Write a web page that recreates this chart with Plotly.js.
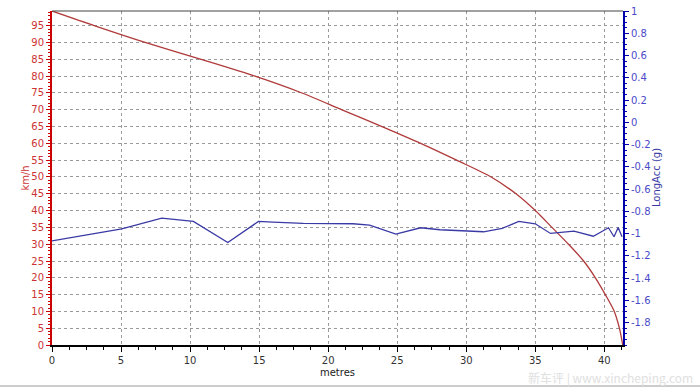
<!DOCTYPE html>
<html>
<head>
<meta charset="utf-8">
<script src="https://cdn.plot.ly/plotly-3.0.1.min.js"></script>
<style>html,body{margin:0;padding:0;background:#fff;}#chart{width:700px;height:388px;}</style>
</head>
<body>
<div id="chart"></div>
<script>
// Speed (km/h) vs distance (metres) — distances read where the curve crosses each 5 km/h level
const speedX = [0,3.1,6.8,10.8,14.7,18.1,21.0,23.9,26.7,29.3,31.8,33.6,35.0,36.2,37.4,38.5,39.35,40.07,40.72,41.09,41.33];
const speedKmh = [99.4,95,90,85,80,75,70,65,60,55,50,45,40,35,30,25,20,15,10,5,0];
// Longitudinal acceleration (g) vs distance (metres)
const accX = [0,5.05,7.95,10.24,12.73,14.95,16.0,18.2,21.8,23.0,24.9,26.7,28.1,29.3,31.25,32.6,33.8,35.0,36.1,37.8,39.2,40.3,40.7,41.0,41.28];
const accG = [-1.064,-0.956,-0.860,-0.890,-1.079,-0.890,-0.897,-0.908,-0.911,-0.923,-1.004,-0.947,-0.965,-0.974,-0.983,-0.953,-0.890,-0.911,-0.998,-0.977,-1.023,-0.947,-1.028,-0.944,-1.028];
// Tick labels
const xTicks = [0,5,10,15,20,25,30,35,40];
const leftTicks = [0,5,10,15,20,25,30,35,40,45,50,55,60,65,70,75,80,85,90,95];
const rightTicks = [1,0.8,0.6,0.4,0.2,0,-0.2,-0.4,-0.6,-0.8,-1,-1.2,-1.4,-1.6,-1.8];
const rightLabels = ["1","0.8","0.6","0.4","0.2","0","-0.2","-0.4","-0.6","-0.8","-1","-1.2","-1.4","-1.6","-1.8"];

const fam = "DejaVu Sans, Verdana, sans-serif";

const traces = [
  {x: accX, y: accG, yaxis: 'y2', type: 'scatter', mode: 'lines',
   line: {color: '#3a3aa6', width: 1.3}, hoverinfo: 'skip'},
  {x: speedX, y: speedKmh, yaxis: 'y', type: 'scatter', mode: 'lines',
   line: {color: '#b03a3a', width: 1.3, shape: 'spline', smoothing: 0.8}, hoverinfo: 'skip'}
];

const layout = {
  width: 700, height: 388,
  margin: {l: 52, r: 77, t: 11, b: 43},
  paper_bgcolor: '#fff', plot_bgcolor: '#fff',
  showlegend: false,
  font: {family: fam, size: 10},
  xaxis: {
    range: [0, 41.35], tickvals: xTicks, ticks: 'outside', ticklen: 5, tickcolor: '#000',
    showline: true, linecolor: '#000', linewidth: 2,
    showgrid: true, gridcolor: '#9a9a9a', griddash: '3px,3px', gridwidth: 1,
    zeroline: false, tickfont: {family: fam, size: 10, color: '#333'},
    minor: {dtick: 1.25, tick0: 0, ticks: 'outside', ticklen: 3, tickcolor: '#000', showgrid: false},
    title: {text: 'metres', standoff: 4, font: {family: fam, size: 10, color: '#222'}}
  },
  yaxis: {
    range: [0, 99.4], tickvals: leftTicks, ticks: 'outside', ticklen: 4, tickcolor: '#cc0000',
    showline: true, linecolor: '#cc0000', linewidth: 2,
    showgrid: true, gridcolor: '#9a9a9a', griddash: '3px,3px', gridwidth: 1,
    zeroline: false, tickfont: {family: fam, size: 10, color: '#cc3333'},
    minor: {dtick: 1, tick0: 0, ticks: 'outside', ticklen: 2, tickcolor: '#cc0000', showgrid: false},
    title: {text: ''}
  },
  yaxis2: {
    overlaying: 'y', side: 'right', range: [-2, 1],
    tickmode: 'array', tickvals: rightTicks, ticktext: rightLabels,
    ticks: 'outside', ticklen: 4, tickcolor: '#0000aa',
    showline: true, linecolor: '#0000aa', linewidth: 2,
    showgrid: false, zeroline: false,
    tickfont: {family: fam, size: 10, color: '#4a4ac8'},
    minor: {tickmode: 'linear', dtick: 0.05, tick0: 0, ticks: 'outside', ticklen: 2, tickcolor: '#0000aa', showgrid: false},
    title: {text: ''}
  },
  shapes: [
    {type: 'line', xref: 'paper', yref: 'paper', x0: 0, x1: 1, y0: 1, y1: 1, line: {color: '#444', width: 1.2}},
    {type: 'line', xref: 'paper', yref: 'paper', x0: -0.1, x1: 1.14, y0: -0.123, y1: -0.123, line: {color: '#bbb', width: 1.5}}
  ],
  annotations: [
    {xref: 'paper', yref: 'paper', x: -0.048, y: 0.5, xanchor: 'center', yanchor: 'middle', showarrow: false,
     textangle: -90, text: 'km/h', font: {family: fam, size: 10, color: '#cc3333'}},
    {xref: 'paper', yref: 'paper', x: 1.058, y: 0.5, xanchor: 'center', yanchor: 'middle', showarrow: false,
     textangle: -90, text: 'LongAcc (g)', font: {family: fam, size: 10, color: '#3a3aa6'}},
    {xref: 'paper', yref: 'paper', x: 1.126, y: -0.1, xanchor: 'right', yanchor: 'middle', showarrow: false,
     text: '新车评 | www.xincheping.com', font: {family: 'Noto Sans CJK SC, DejaVu Serif, serif', size: 12, color: '#e0e0e0'}}
  ]
};

Plotly.newPlot('chart', traces, layout, {displayModeBar: false, staticPlot: true});
</script>
</body>
</html>
